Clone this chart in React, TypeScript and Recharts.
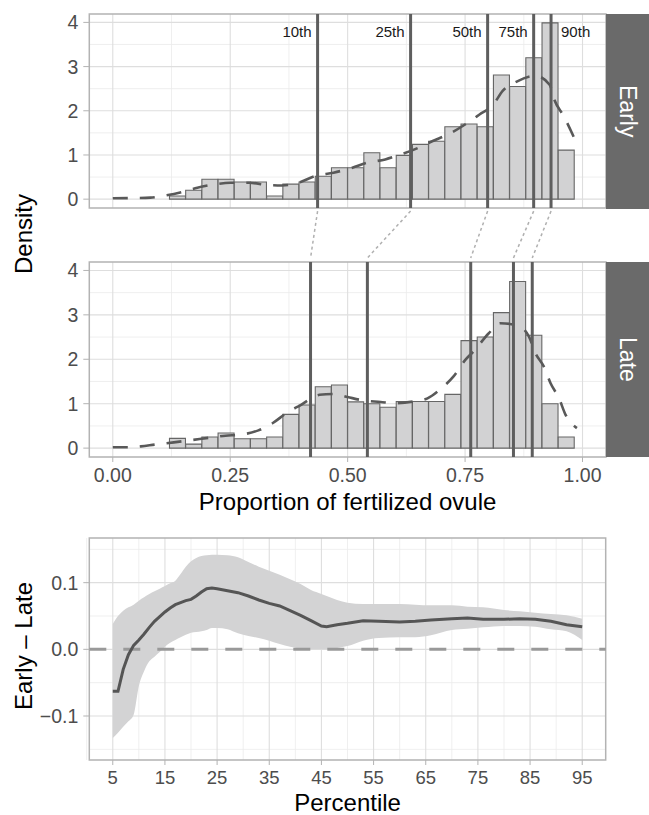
import React from 'react';
import {
  ComposedChart,
  Bar,
  Line,
  Area,
  XAxis,
  YAxis,
  CartesianGrid,
  ReferenceLine,
  ReferenceArea,
} from 'recharts';

const FONT = '"Liberation Sans", Arial, Helvetica, sans-serif';

// histogram: 29 bins over [0, 1], bars present from bin 4 to bin 28
const BIN_W = 1 / 29;
const binIndex = [4, 5, 6, 7, 8, 9, 10, 11, 12, 13, 14, 15, 16, 17, 18, 19, 20, 21, 22, 23, 24, 25, 26, 27, 28];
const earlyHist = [0.07, 0.2, 0.45, 0.45, 0.39, 0.39, 0.07, 0.34, 0.39, 0.52, 0.71, 0.71, 1.05, 0.71, 0.99, 1.24, 1.31, 1.64, 1.7, 1.64, 2.81, 2.55, 3.2, 3.99, 1.11];
const lateHist = [0.22, 0.09, 0.25, 0.34, 0.21, 0.21, 0.25, 0.76, 0.97, 1.38, 1.42, 1.04, 1.0, 0.92, 1.05, 1.05, 1.05, 1.21, 2.42, 2.5, 3.05, 3.75, 2.54, 1.0, 0.25];

// kernel density curves
const earlyDensX = [0, 0.04, 0.08, 0.11, 0.15, 0.18, 0.22, 0.25, 0.29, 0.33, 0.36, 0.4, 0.43, 0.47, 0.51, 0.54, 0.58, 0.61, 0.65, 0.68, 0.72, 0.75, 0.78, 0.81, 0.83, 0.86, 0.9, 0.93, 0.94, 0.96, 0.99];
const earlyDensY = [0.02, 0.025, 0.035, 0.08, 0.17, 0.26, 0.34, 0.37, 0.37, 0.32, 0.31, 0.39, 0.52, 0.6, 0.71, 0.82, 0.9, 1.0, 1.16, 1.31, 1.5, 1.69, 1.91, 2.14, 2.45, 2.66, 2.79, 2.59, 2.25, 1.88, 1.2];
const lateDensX = [0, 0.04, 0.06, 0.09, 0.13, 0.16, 0.21, 0.24, 0.27, 0.31, 0.34, 0.37, 0.4, 0.44, 0.47, 0.5, 0.53, 0.57, 0.6, 0.64, 0.67, 0.7, 0.725, 0.75, 0.77, 0.8, 0.825, 0.86, 0.886, 0.9, 0.918, 0.932, 0.95, 0.964, 0.988];
const lateDensY = [0.02, 0.02, 0.04, 0.08, 0.13, 0.17, 0.24, 0.28, 0.3, 0.4, 0.56, 0.79, 0.97, 1.2, 1.22, 1.15, 1.08, 1.04, 1.01, 1.05, 1.12, 1.35, 1.61, 1.98, 2.2, 2.58, 2.81, 2.77, 2.51, 2.13, 1.83, 1.46, 1.12, 0.75, 0.45];

const pctNames = ['10th', '25th', '50th', '75th', '90th'];
const earlyPct = [0.436, 0.634, 0.798, 0.896, 0.933];
const latePct = [0.421, 0.542, 0.762, 0.853, 0.893];

// Early - Late difference by percentile
const percentile = [5, 6, 7, 8, 9, 10, 11, 12, 13, 14, 15, 16, 17, 18, 19, 20, 21, 22, 23, 24, 25, 27, 29, 31, 33, 35, 37, 39, 41, 43, 45, 46, 48, 50, 53, 56, 60, 63, 66, 70, 73, 76, 80, 83, 86, 89, 92, 95];
const diffMid = [-0.063, -0.063, -0.03, -0.008, 0.006, 0.014, 0.023, 0.033, 0.042, 0.049, 0.056, 0.062, 0.067, 0.07, 0.073, 0.075, 0.08, 0.086, 0.091, 0.092, 0.091, 0.088, 0.085, 0.08, 0.074, 0.069, 0.065, 0.058, 0.051, 0.043, 0.035, 0.034, 0.037, 0.039, 0.043, 0.042, 0.041, 0.042, 0.044, 0.046, 0.047, 0.045, 0.045, 0.046, 0.045, 0.042, 0.037, 0.034];
const diffLo = [-0.133, -0.125, -0.116, -0.108, -0.098, -0.055, -0.033, -0.018, -0.011, -0.004, 0.004, 0.01, 0.014, 0.018, 0.022, 0.025, 0.026, 0.027, 0.029, 0.032, 0.032, 0.03, 0.024, 0.02, 0.017, 0.013, 0.008, 0.004, 0.001, 0, 0, 0, 0.002, 0.005, 0.013, 0.017, 0.018, 0.018, 0.021, 0.029, 0.031, 0.033, 0.035, 0.035, 0.034, 0.03, 0.027, 0.014];
const diffHi = [0.038, 0.05, 0.058, 0.063, 0.067, 0.073, 0.078, 0.083, 0.087, 0.091, 0.095, 0.099, 0.103, 0.113, 0.124, 0.132, 0.137, 0.14, 0.141, 0.142, 0.142, 0.141, 0.138, 0.131, 0.124, 0.118, 0.112, 0.105, 0.098, 0.089, 0.083, 0.08, 0.074, 0.07, 0.068, 0.068, 0.068, 0.067, 0.066, 0.066, 0.064, 0.063, 0.059, 0.057, 0.055, 0.053, 0.051, 0.046];

const HX: [number, number] = [-0.05, 1.05];
const HY: [number, number] = [-0.2, 4.19];
const hxMajor = [0, 0.25, 0.5, 0.75, 1];
const hxMinor = [0.125, 0.375, 0.625, 0.875];
const hyMajor = [0, 1, 2, 3, 4];
const hyMinor = [0.5, 1.5, 2.5, 3.5];

const DX: [number, number] = [0.5, 99.5];
const DY: [number, number] = [-0.166, 0.167];
const dxMajor = [5, 15, 25, 35, 45, 55, 65, 75, 85, 95];
const dxMinor = [0, 10, 20, 30, 40, 50, 60, 70, 80, 90];
const dyMajor = [-0.1, 0, 0.1];
const dyMinor = [-0.15, -0.05, 0.05, 0.15];

const tickStyle = { fill: '#4d4d4d', fontSize: 19.5, fontFamily: FONT };

const pctLabel = (text: string, right: boolean) => (props: any) => {
  const vb = props.viewBox || {};
  return (
    <text
      x={right ? vb.x + 10 : vb.x - 6}
      y={vb.y + 22.5}
      textAnchor={right ? 'start' : 'end'}
      fontSize={15}
      fontFamily={FONT}
      fill="#1a1a1a"
    >
      {text}
    </text>
  );
};

type HistProps = {
  values: number[];
  densX: number[];
  densY: number[];
  pcts: number[];
  height: number;
  margin: { top: number; right: number; bottom: number; left: number };
  showLabels?: boolean;
  links?: number[];
  showX?: boolean;
};

const HistPanel = ({ values, densX, densY, pcts, height, margin, showLabels, links, showX }: HistProps) => {
  const rows = binIndex.map((k, i) => ({ x: k * BIN_W, y: values[i] }));
  const dens = densX.map((x, i) => ({ x, d: densY[i] }));
  return (
    <ComposedChart width={649} height={height} data={rows} margin={margin} barCategoryGap={0} barGap={0}>
      <CartesianGrid verticalValues={hxMinor} horizontalValues={hyMinor} stroke="#ebebeb" strokeWidth={0.8} />
      <CartesianGrid verticalValues={hxMajor} horizontalValues={hyMajor} stroke="#dedede" strokeWidth={1.1} />
      <XAxis
        dataKey="x"
        type="number"
        domain={HX}
        ticks={hxMajor}
        allowDataOverflow
        hide={!showX}
        height={30}
        tick={tickStyle}
        tickFormatter={(v: number) => v.toFixed(2)}
        tickLine={{ stroke: '#b3b3b3' }}
        axisLine={false}
        tickSize={5}
        tickMargin={6}
      />
      <XAxis xAxisId="dens" dataKey="x" type="number" domain={HX} allowDataOverflow hide />
      <YAxis
        type="number"
        domain={HY}
        ticks={hyMajor}
        allowDataOverflow
        width={40}
        tick={tickStyle}
        tickLine={{ stroke: '#b3b3b3' }}
        axisLine={false}
        tickSize={6}
        tickMargin={5}
      />
      <Bar dataKey="y" fill="#d2d2d3" stroke="#666666" strokeWidth={1.1} isAnimationActive={false} />
      <Line
        xAxisId="dens"
        data={dens}
        dataKey="d"
        type="monotone"
        stroke="#595959"
        strokeWidth={2.6}
        strokeDasharray="15 12"
        dot={false}
        activeDot={false}
        isAnimationActive={false}
      />
      {pcts.map((p, i) => (
        <ReferenceLine
          key={'p' + i}
          x={p}
          stroke="#5e5e5e"
          strokeWidth={3}
          label={showLabels ? pctLabel(pctNames[i], i === pcts.length - 1) : undefined}
        />
      ))}
      {links &&
        pcts.map((p, i) => (
          <ReferenceLine
            key={'l' + i}
            segment={[
              { x: p, y: -0.27 },
              { x: links[i], y: -1.33 },
            ]}
            stroke="#b0b0b0"
            strokeWidth={1.5}
            strokeDasharray="3 3"
            ifOverflow="visible"
          />
        ))}
      <ReferenceArea x1={HX[0]} x2={HX[1]} y1={HY[0]} y2={HY[1]} fill="none" stroke="#b3b3b3" strokeWidth={1.5} ifOverflow="visible" />
    </ComposedChart>
  );
};

const Strip = ({ text, top, height }: { text: string; top: number; height: number }) => (
  <div
    style={{
      position: 'absolute',
      left: 606,
      top,
      width: 43,
      height,
      background: '#6a6a6a',
      color: '#ffffff',
      display: 'flex',
      alignItems: 'center',
      justifyContent: 'center',
    }}
  >
    <span style={{ writingMode: 'vertical-rl', fontSize: 23, fontFamily: FONT, lineHeight: 1 }}>{text}</span>
  </div>
);

const Title = ({ text, x, y, rotate }: { text: string; x: number; y: number; rotate?: boolean }) => (
  <div
    style={{
      position: 'absolute',
      left: x,
      top: y,
      fontSize: 24,
      lineHeight: '24px',
      fontFamily: FONT,
      color: '#000',
      whiteSpace: 'nowrap',
      transform: rotate ? 'translate(-50%, -50%) rotate(-90deg)' : 'translateX(-50%)',
    }}
  >
    {text}
  </div>
);

export default function App() {
  const diffRows = percentile.map((p, i) => ({ p, mid: diffMid[i], band: [diffLo[i], diffHi[i]] }));
  return (
    <div style={{ position: 'absolute', left: 0, top: 0, width: 649, height: 815, background: '#fff', fontFamily: FONT, overflow: 'hidden' }}>
      <div style={{ position: 'absolute', left: 0, top: 0 }}>
        <HistPanel
          values={earlyHist}
          densX={earlyDensX}
          densY={earlyDensY}
          pcts={earlyPct}
          height={262}
          margin={{ top: 14, right: 43, bottom: 54, left: 49.3 }}
          showLabels
          links={latePct}
        />
      </div>
      <div style={{ position: 'absolute', left: 0, top: 250 }}>
        <HistPanel
          values={lateHist}
          densX={lateDensX}
          densY={lateDensY}
          pcts={latePct}
          height={240}
          margin={{ top: 12, right: 43, bottom: 3, left: 49.3 }}
          showX
        />
      </div>
      <Strip text="Early" top={14} height={195} />
      <Strip text="Late" top={261.5} height={195.5} />
      <Title text="Density" x={23.5} y={234} rotate />
      <Title text="Proportion of fertilized ovule" x={347.6} y={490} />

      <div style={{ position: 'absolute', left: 0, top: 525 }}>
        <ComposedChart width={649} height={265} data={diffRows} margin={{ top: 13, right: 43.3, bottom: 0, left: 49.3 }}>
          <CartesianGrid verticalValues={dxMinor} horizontalValues={dyMinor} stroke="#ebebeb" strokeWidth={0.8} />
          <CartesianGrid verticalValues={dxMajor} horizontalValues={dyMajor} stroke="#dedede" strokeWidth={1.1} />
          <XAxis
            dataKey="p"
            type="number"
            domain={DX}
            ticks={dxMajor}
            allowDataOverflow
            height={30}
            tick={{ ...tickStyle, fontSize: 18.5 }}
            tickLine={{ stroke: '#b3b3b3' }}
            axisLine={false}
            tickSize={5}
            tickMargin={6}
          />
          <YAxis
            type="number"
            domain={DY}
            ticks={dyMajor}
            allowDataOverflow
            width={40}
            tick={tickStyle}
            tickFormatter={(v: number) => (v === 0 ? '0.0' : v < 0 ? '\u2212' + Math.abs(v).toFixed(1) : v.toFixed(1))}
            tickLine={{ stroke: '#b3b3b3' }}
            axisLine={false}
            tickSize={6}
            tickMargin={5}
          />
          <Area dataKey="band" type="monotone" fill="#d3d3d4" fillOpacity={1} stroke="none" isAnimationActive={false} activeDot={false} />
          <ReferenceLine y={0} stroke="#999999" strokeWidth={3} strokeDasharray="17 17" />
          <Line dataKey="mid" type="linear" stroke="#555555" strokeWidth={3} dot={false} activeDot={false} isAnimationActive={false} />
          <ReferenceArea x1={DX[0]} x2={DX[1]} y1={DY[0]} y2={DY[1]} fill="none" stroke="#b3b3b3" strokeWidth={1.5} ifOverflow="visible" />
        </ComposedChart>
      </div>
      <Title text="Early – Late" x={23.5} y={646} rotate />
      <Title text="Percentile" x={347.6} y={791} />
    </div>
  );
}
